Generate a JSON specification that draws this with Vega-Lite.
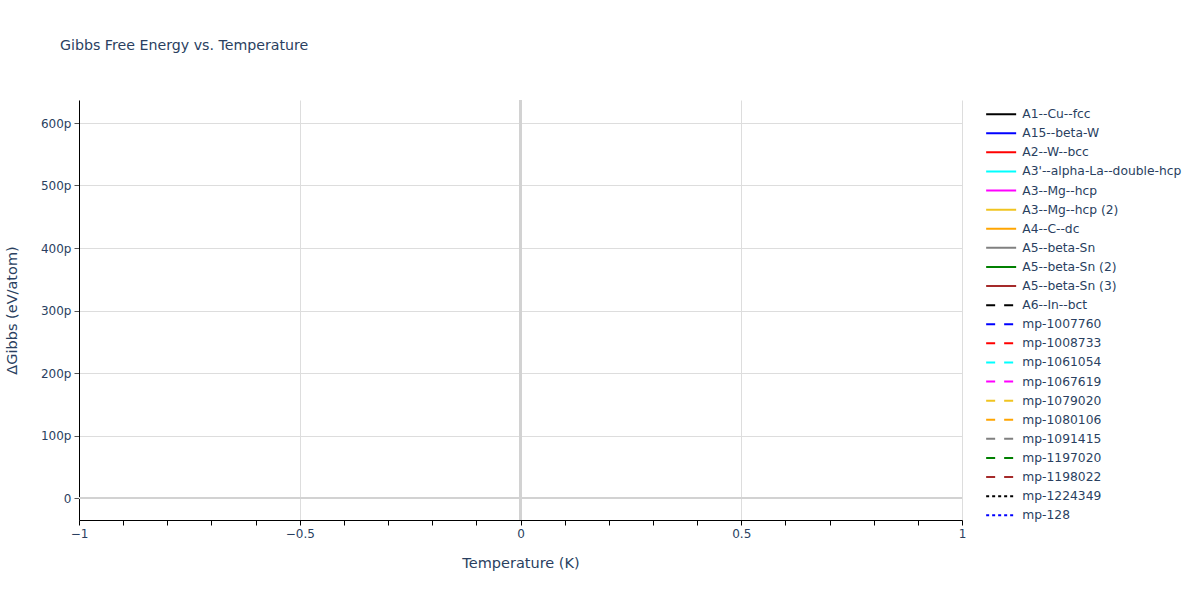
{
  "$schema": "https://vega.github.io/schema/vega-lite/v6.json",
  "autosize": "none",
  "width": 883,
  "height": 420,
  "padding": {"left": 79, "top": 100, "right": 238, "bottom": 80},
  "background": "white",
  "title": {
    "text": "Gibbs Free Energy vs. Temperature",
    "anchor": "start",
    "frame": "group",
    "dx": -19,
    "offset": 39,
    "baseline": "middle",
    "fontSize": 14.2,
    "fontWeight": "normal",
    "font": "DejaVu Sans",
    "color": "#2a3f5f"
  },
  "data": {
    "values": [
      {"Temperature": 0, "dG": 0, "name": "A1--Cu--fcc"},
      {"Temperature": 0, "dG": 0, "name": "A15--beta-W"},
      {"Temperature": 0, "dG": 0, "name": "A2--W--bcc"},
      {"Temperature": 0, "dG": 0, "name": "A3'--alpha-La--double-hcp"},
      {"Temperature": 0, "dG": 0, "name": "A3--Mg--hcp"},
      {"Temperature": 0, "dG": 0, "name": "A3--Mg--hcp (2)"},
      {"Temperature": 0, "dG": 0, "name": "A4--C--dc"},
      {"Temperature": 0, "dG": 0, "name": "A5--beta-Sn"},
      {"Temperature": 0, "dG": 0, "name": "A5--beta-Sn (2)"},
      {"Temperature": 0, "dG": 0, "name": "A5--beta-Sn (3)"},
      {"Temperature": 0, "dG": 0, "name": "A6--In--bct"},
      {"Temperature": 0, "dG": 0, "name": "mp-1007760"},
      {"Temperature": 0, "dG": 0, "name": "mp-1008733"},
      {"Temperature": 0, "dG": 0, "name": "mp-1061054"},
      {"Temperature": 0, "dG": 0, "name": "mp-1067619"},
      {"Temperature": 0, "dG": 0, "name": "mp-1079020"},
      {"Temperature": 0, "dG": 0, "name": "mp-1080106"},
      {"Temperature": 0, "dG": 0, "name": "mp-1091415"},
      {"Temperature": 0, "dG": 0, "name": "mp-1197020"},
      {"Temperature": 0, "dG": 0, "name": "mp-1198022"},
      {"Temperature": 0, "dG": 0, "name": "mp-1224349"},
      {"Temperature": 0, "dG": 0, "name": "mp-128"}
    ]
  },
  "layer": [
    {
      "mark": {"type": "rule", "color": "#d2d2d2", "strokeWidth": 2},
      "encoding": {
        "y": {"datum": 0, "type": "quantitative", "scale": {"domain": [-35.2e-12, 636.8e-12], "nice": false}}
      }
    },
    {
      "mark": {"type": "rule", "color": "#d2d2d2", "strokeWidth": 2},
      "encoding": {
        "x": {"datum": 0, "type": "quantitative", "scale": {"domain": [-1, 1], "nice": false}}
      }
    },
    {
      "mark": {"type": "line", "strokeWidth": 2},
      "encoding": {
        "x": {
          "field": "Temperature",
          "type": "quantitative",
          "title": "Temperature (K)",
          "scale": {"domain": [-1, 1], "nice": false, "zero": false},
          "axis": {
            "grid": true,
            "values": [-1, -0.9, -0.8, -0.7, -0.6, -0.5, -0.4, -0.3, -0.2, -0.1, 0, 0.1, 0.2, 0.3, 0.4, 0.5, 0.6, 0.7, 0.8, 0.9, 1],
            "format": "~g",
            "labelFlush": false,
            "labelExpr": "abs(datum.value * 2 - round(datum.value * 2)) < 1e-6 ? datum.label : ''",
            "gridOpacity": {"condition": {"test": "abs(datum.value * 2 - round(datum.value * 2)) < 1e-6", "value": 1}, "value": 0},
            "tickColor": "#000000",
            "titlePadding": 17
          }
        },
        "y": {
          "field": "dG",
          "type": "quantitative",
          "title": "ΔGibbs (eV/atom)",
          "scale": {"domain": [-35.2e-12, 636.8e-12], "nice": false, "zero": false},
          "axis": {
            "grid": true,
            "values": [0, 1e-10, 2e-10, 3e-10, 4e-10, 5e-10, 6e-10],
            "format": "~s",
            "labelExpr": "datum.value == 0 ? '0' : datum.label",
            "tickColor": "#555555",
            "titlePadding": 21
          }
        },
        "color": {
          "field": "name",
          "type": "nominal",
          "title": null,
          "scale": {
            "domain": ["A1--Cu--fcc", "A15--beta-W", "A2--W--bcc", "A3'--alpha-La--double-hcp", "A3--Mg--hcp", "A3--Mg--hcp (2)", "A4--C--dc", "A5--beta-Sn", "A5--beta-Sn (2)", "A5--beta-Sn (3)", "A6--In--bct", "mp-1007760", "mp-1008733", "mp-1061054", "mp-1067619", "mp-1079020", "mp-1080106", "mp-1091415", "mp-1197020", "mp-1198022", "mp-1224349", "mp-128"],
            "range": ["#000000", "#0000ff", "#ff0000", "#00ffff", "#ff00ff", "#f0c420", "#ffa500", "#808080", "#008000", "#a52a2a", "#000000", "#0000ff", "#ff0000", "#00ffff", "#ff00ff", "#f0c420", "#ffa500", "#808080", "#008000", "#a52a2a", "#000000", "#0000ff"]
          },
          "legend": {
            "orient": "none",
            "legendX": 916,
            "legendY": 8
          }
        },
        "strokeDash": {
          "field": "name",
          "type": "nominal",
          "title": null,
          "scale": {
            "domain": ["A1--Cu--fcc", "A15--beta-W", "A2--W--bcc", "A3'--alpha-La--double-hcp", "A3--Mg--hcp", "A3--Mg--hcp (2)", "A4--C--dc", "A5--beta-Sn", "A5--beta-Sn (2)", "A5--beta-Sn (3)", "A6--In--bct", "mp-1007760", "mp-1008733", "mp-1061054", "mp-1067619", "mp-1079020", "mp-1080106", "mp-1091415", "mp-1197020", "mp-1198022", "mp-1224349", "mp-128"],
            "range": [[1, 0], [1, 0], [1, 0], [1, 0], [1, 0], [1, 0], [1, 0], [1, 0], [1, 0], [1, 0], [9, 9], [9, 9], [9, 9], [9, 9], [9, 9], [9, 9], [9, 9], [9, 9], [9, 9], [9, 9], [3, 3], [3, 3]]
          },
          "legend": {
            "orient": "none",
            "legendX": 916,
            "legendY": 8
          }
        }
      }
    }
  ],
  "config": {
    "view": {"stroke": null},
    "font": "DejaVu Sans",
    "axis": {
      "domainColor": "#000000",
      "domainWidth": 1,
      "gridColor": "#dddddd",
      "gridWidth": 1,
      "tickSize": 5,
      "tickWidth": 1,
      "labelFontSize": 12,
      "labelColor": "#2a3f5f",
      "labelPadding": 3,
      "titleFontSize": 14.5,
      "titleFontWeight": "normal",
      "titleColor": "#2a3f5f",
      "labelFont": "DejaVu Sans",
      "titleFont": "DejaVu Sans"
    },
    "legend": {
      "symbolType": "M-3,0H3",
      "symbolSize": 100,
      "symbolStrokeWidth": 2,
      "labelOffset": 15,
      "labelFontSize": 12.3,
      "labelColor": "#2a3f5f",
      "labelFont": "DejaVu Sans",
      "labelLimit": 300,
      "rowPadding": 6.1,
      "padding": 0
    }
  }
}
